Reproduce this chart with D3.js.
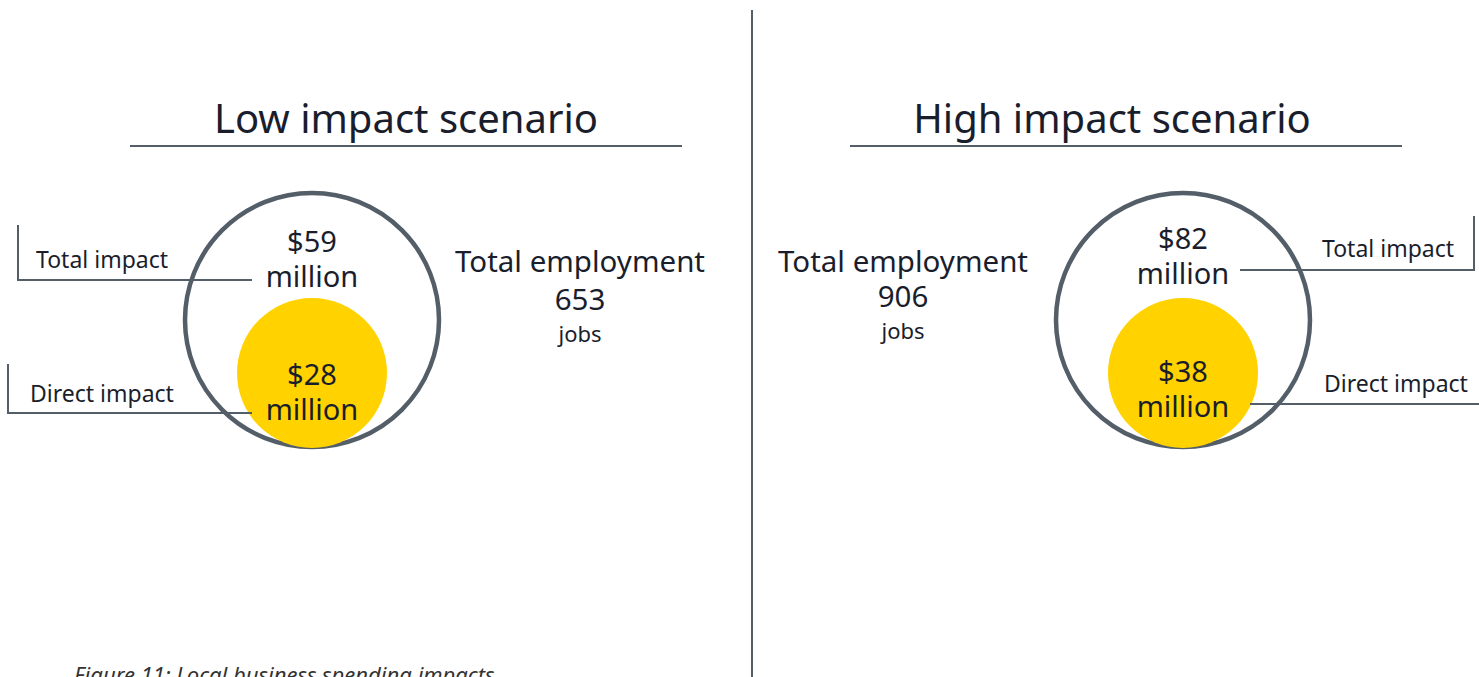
<!DOCTYPE html>
<html><head><meta charset="utf-8">
<script src="https://cdn.jsdelivr.net/npm/d3@7"></script>
<style>body{margin:0;background:#fff;overflow:hidden}svg{display:block}text{font-family:"Noto Sans",sans-serif;fill:#1a1e2c}</style>
</head><body>
<script>
const scenarios = ["Low impact scenario", "High impact scenario"];
const totalImpact = [59, 82];
const directImpact = [28, 38];
const employment = [653, 906];
const caption = "Figure 11: Local business spending impacts";

const W = 1479, H = 677;
const svg = d3.select("body").append("svg").attr("width", W).attr("height", H);
const gray = "#545e68";
const yellow = "#ffd200";

const cfg = [
  {title: 406, line: 406, circ: 312, emp: 580, side: "left"},
  {title: 1112, line: 1126, circ: 1183, emp: 903, side: "right"}
];
const rBig = 127, rSmall = 75;

svg.append("line").attr("x1", 752).attr("x2", 752).attr("y1", 10).attr("y2", H)
  .attr("stroke", gray).attr("stroke-width", 2);

scenarios.forEach((s, i) => {
  const c = cfg[i];
  const g = svg.append("g");
  g.append("text").attr("x", c.title).attr("y", 133).attr("text-anchor", "middle")
    .attr("font-size", 40).text(s);
  g.append("line").attr("x1", c.line - 276).attr("x2", c.line + 276).attr("y1", 146).attr("y2", 146)
    .attr("stroke", gray).attr("stroke-width", 2);

  g.append("circle").attr("cx", c.circ).attr("cy", 320).attr("r", rBig)
    .attr("fill", "#fff").attr("stroke", gray).attr("stroke-width", 4.5);
  g.append("circle").attr("cx", c.circ).attr("cy", 373).attr("r", rSmall).attr("fill", yellow);

  if (c.side === "left") {
    g.append("path").attr("d", `M18,225V280H252`).attr("fill", "none").attr("stroke", gray).attr("stroke-width", 2);
    g.append("path").attr("d", `M8,364V413H252`).attr("fill", "none").attr("stroke", gray).attr("stroke-width", 2);
    g.append("text").attr("x", 36).attr("y", 268).attr("font-size", 23).text("Total impact");
    g.append("text").attr("x", 30).attr("y", 402).attr("font-size", 23).text("Direct impact");
  } else {
    g.append("path").attr("d", `M1240,270H1474V216`).attr("fill", "none").attr("stroke", gray).attr("stroke-width", 2);
    g.append("path").attr("d", `M1250,404H1479`).attr("fill", "none").attr("stroke", gray).attr("stroke-width", 2);
    g.append("text").attr("x", 1322).attr("y", 257).attr("font-size", 23).text("Total impact");
    g.append("text").attr("x", 1324).attr("y", 392).attr("font-size", 23).text("Direct impact");
  }

  const fs = 29;
  const ty = i === 0 ? 252 : 249;
  g.append("text").attr("x", c.circ).attr("y", ty).attr("text-anchor", "middle").attr("font-size", fs).text("$" + totalImpact[i]);
  g.append("text").attr("x", c.circ).attr("y", ty + 35).attr("text-anchor", "middle").attr("font-size", fs).text("million");
  const dy = i === 0 ? 385 : 382;
  g.append("text").attr("x", c.circ).attr("y", dy).attr("text-anchor", "middle").attr("font-size", fs).text("$" + directImpact[i]);
  g.append("text").attr("x", c.circ).attr("y", dy + 35).attr("text-anchor", "middle").attr("font-size", fs).text("million");

  g.append("text").attr("x", c.emp).attr("y", 272).attr("text-anchor", "middle").attr("font-size", 29.5).text("Total employment");
  g.append("text").attr("x", c.emp).attr("y", i === 0 ? 310 : 307).attr("text-anchor", "middle").attr("font-size", 29.5).text(employment[i]);
  g.append("text").attr("x", c.emp).attr("y", i === 0 ? 342 : 339).attr("text-anchor", "middle").attr("font-size", 22).text("jobs");
});

svg.append("text").attr("x", 74).attr("y", 683).attr("font-size", 22).attr("font-style", "italic")
  .style("fill", "#333").text(caption);
</script>
</body></html>
